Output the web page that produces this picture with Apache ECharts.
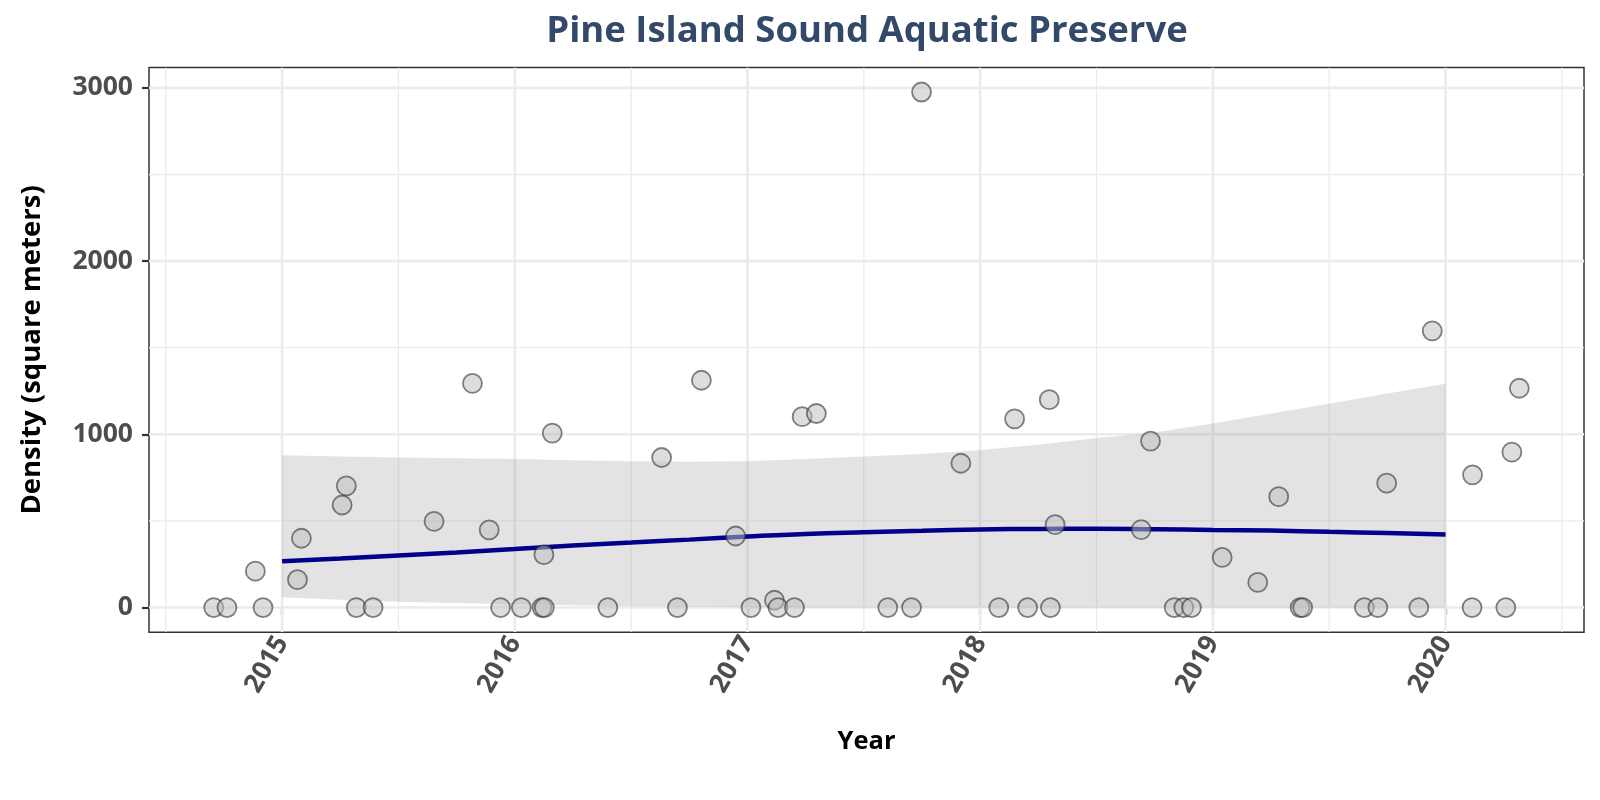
<!DOCTYPE html>
<html>
<head>
<meta charset="utf-8">
<script src="https://cdn.jsdelivr.net/npm/echarts@6.0.0/dist/echarts.min.js"></script>
<style>html,body{margin:0;padding:0;background:#fff;}#chart{width:1600px;height:800px;}</style>
</head>
<body>
<div id="chart"></div>
<script>
// ---- data ----
const pointYears = [2014.706,2014.763,2014.885,2014.918,2015.066,2015.083,2015.258,2015.276,2015.319,2015.391,
  2015.653,2015.818,2015.890,2015.939,2016.028,2016.117,2016.127,2016.125,2016.161,2016.400,
  2016.631,2016.699,2016.802,2016.949,2017.015,2017.116,2017.131,2017.202,2017.235,2017.296,
  2017.603,2017.705,2017.748,2017.917,2018.080,2018.148,2018.204,2018.297,2018.302,2018.322,
  2018.692,2018.732,2018.834,2018.875,2018.908,2019.040,2019.193,2019.283,2019.375,2019.386,
  2019.651,2019.709,2019.747,2019.885,2019.943,2020.114,2020.116,2020.259,2020.285,2020.317];
const pointValues = [0,0,210,0,161,400,592,702,0,0,
  497,1294,448,0,0,0,0,305,1007,0,
  866,0,1312,413,0,42,0,0,1102,1120,
  0,0,2976,833,0,1089,0,1200,0,479,
  450,961,0,0,0,289,145,640,0,0,
  0,0,718,0,1597,0,766,0,897,1266];

const smoothYears = [2015.0,2015.25,2015.5,2015.75,2016.0,2016.25,2016.5,2016.75,2017.0,2017.25,2017.5,
  2017.75,2018.0,2018.25,2018.5,2018.75,2019.0,2019.25,2019.5,2019.75,2020.0];
const smoothValues = [267,283,300,318,338,358,375,392,410,425,435,443,450,454,455,452,448,444,437,430,422];
const bandUpper = [879,872,866,862,857,850,845,841,845,858,872,887,910,940,978,1010,1062,1120,1177,1235,1292];
const bandLower = [59,45,34,26,19,13,8,4,1,0,0,0,0,0,0,0,0,0,0,0,0];

const xTickLabels = [2015,2016,2017,2018,2019,2020];
const xMinorGrid = [2014.5,2015.5,2016.5,2017.5,2018.5,2019.5,2020.5];
const yTickLabels = [0,1000,2000,3000];
const yMinorGrid = [500,1500,2500];

// ---- layout ----
const X_MIN = 2014.428, X_MAX = 2020.595;
const Y_MIN = -143, Y_MAX = 3117;
const FONT = '"Open Sans", "Noto Sans", sans-serif';

const chart = echarts.init(document.getElementById('chart'), null, {renderer: 'canvas'});

function vGridItem(params, api) {
  const v = api.value(0), major = api.value(1);
  const p1 = api.coord([v, Y_MIN]), p2 = api.coord([v, Y_MAX]);
  return {type: 'line', shape: {x1: p1[0], y1: p1[1], x2: p2[0], y2: p2[1]},
    style: {stroke: '#ebebeb', lineWidth: major ? 2.6 : 1.3}};
}
function hGridItem(params, api) {
  const v = api.value(1), major = api.value(0);
  const p1 = api.coord([X_MIN, v]), p2 = api.coord([X_MAX, v]);
  return {type: 'line', shape: {x1: p1[0], y1: p1[1], x2: p2[0], y2: p2[1]},
    style: {stroke: '#ebebeb', lineWidth: major ? 2.6 : 1.3}};
}

const option = {
  animation: false,
  backgroundColor: '#ffffff',
  title: {
    text: 'Pine Island Sound Aquatic Preserve',
    left: 862, top: 8, textAlign: 'center',
    textStyle: {fontFamily: FONT, fontWeight: 'bold', fontSize: 36.5, color: '#33496a'}
  },
  grid: {left: 149, right: 16, top: 67.6, bottom: 167.7, show: true,
    borderColor: '#333333', borderWidth: 1.5, backgroundColor: 'transparent'},
  xAxis: {
    type: 'value', min: X_MIN, max: X_MAX,
    name: 'Year', nameLocation: 'middle', nameGap: 96,
    nameTextStyle: {fontFamily: FONT, fontWeight: 'bold', fontSize: 25.5, color: '#000'},
    axisLine: {show: false},
    splitLine: {show: false},
    axisTick: {show: true, length: 7, customValues: xTickLabels, lineStyle: {color: '#333', width: 2.2}},
    axisLabel: {show: true, customValues: xTickLabels, rotate: 60, margin: 6, padding: [22, 0, 0, 0],
      formatter: v => String(Math.round(v)),
      fontFamily: FONT, fontWeight: 'bold', fontSize: 26.5, color: '#4d4d4d'}
  },
  yAxis: {
    type: 'value', min: Y_MIN, max: Y_MAX,
    name: 'Density (square meters)', nameLocation: 'middle', nameGap: 103,
    nameTextStyle: {fontFamily: FONT, fontWeight: 'bold', fontSize: 27.5, color: '#000'},
    axisLine: {show: false},
    splitLine: {show: false},
    axisTick: {show: true, length: 7, customValues: yTickLabels, lineStyle: {color: '#333', width: 2.2}},
    axisLabel: {show: true, customValues: yTickLabels, margin: 16,
      formatter: v => String(Math.round(v)),
      fontFamily: FONT, fontWeight: 'bold', fontSize: 26.5, color: '#4d4d4d'}
  },
  series: [
    {
      type: 'custom', name: 'xgrid', z: 1, silent: true,
      data: xTickLabels.map(v => [v, 1]).concat(xMinorGrid.map(v => [v, 0])),
      renderItem: vGridItem, clip: true
    },
    {
      type: 'custom', name: 'ygrid', z: 1, silent: true,
      data: yTickLabels.map(v => [1, v]).concat(yMinorGrid.map(v => [0, v])),
      renderItem: hGridItem, clip: true
    },
    {
      type: 'custom', name: 'band', z: 2, silent: true,
      data: [[smoothYears[0], smoothValues[0]]],
      renderItem: function (params, api) {
        const pts = [];
        for (let i = 0; i < smoothYears.length; i++) pts.push(api.coord([smoothYears[i], bandUpper[i]]));
        for (let i = smoothYears.length - 1; i >= 0; i--) pts.push(api.coord([smoothYears[i], bandLower[i]]));
        return {type: 'polygon', shape: {points: pts}, style: {fill: 'rgba(153,153,153,0.28)'}};
      }
    },
    {
      type: 'line', name: 'smooth', z: 3, silent: true, smooth: true, showSymbol: false,
      data: smoothYears.map((x, i) => [x, smoothValues[i]]),
      lineStyle: {color: '#00008B', width: 4.5}
    },
    {
      type: 'scatter', name: 'points', z: 4, silent: true,
      data: pointYears.map((x, i) => [x, pointValues[i]]),
      symbol: 'circle', symbolSize: 19,
      itemStyle: {color: 'rgba(190,190,190,0.65)', borderColor: 'rgba(50,50,50,0.75)', borderWidth: 1.8}
    }
  ]
};
chart.setOption(option);
</script>
</body>
</html>
